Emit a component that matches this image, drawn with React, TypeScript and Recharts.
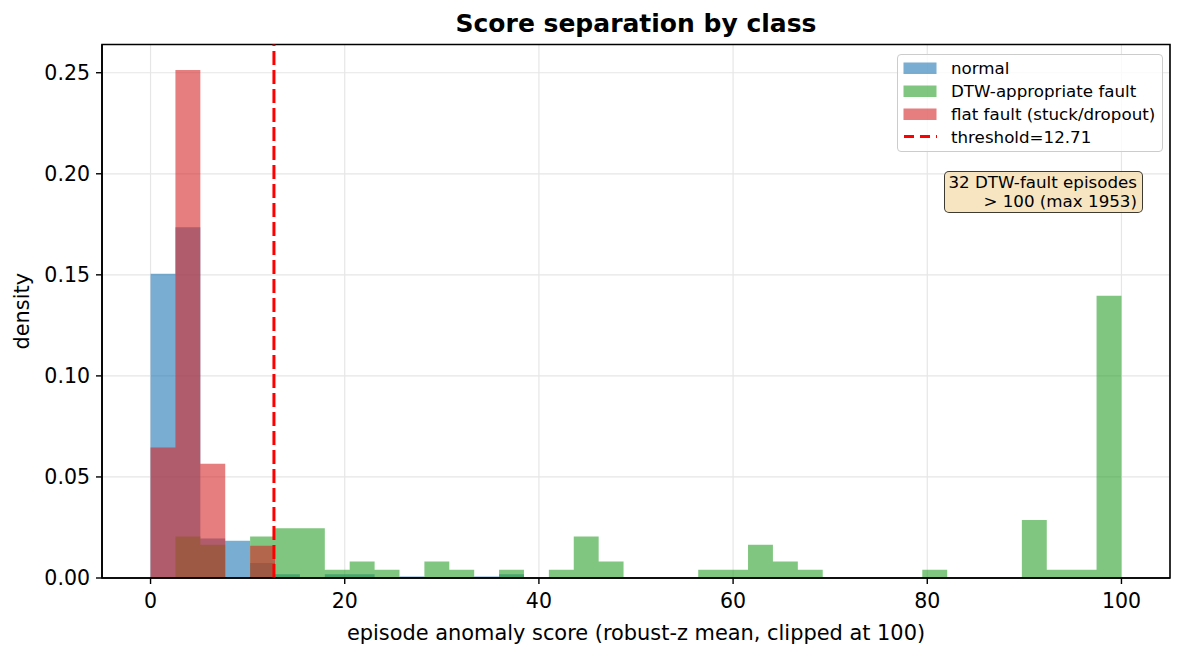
import React from 'react';
import {
  ComposedChart,
  Area,
  XAxis,
  YAxis,
  CartesianGrid,
  ReferenceLine,
  ReferenceArea,
  Label,
} from 'recharts';

// Histogram layout: 39 equal bins between 0 and 100 (scores clipped at 100)
const BIN_COUNT = 39;
const SCORE_MAX = 100;
const THRESHOLD = 12.71;
const X_DOMAIN: [number, number] = [-5, 105];

const X_TICKS = [0, 20, 40, 60, 80, 100];
const Y_TICKS = [0, 0.05, 0.1, 0.15, 0.2, 0.25];

// Density per bin for each class
const normalDensity = [
  0.1505, 0.1735, 0.0196, 0.0184, 0.0074, 0.0018, 0, 0.0018, 0.0018, 0,
  0.0008, 0, 0, 0.0008, 0.0018, 0, 0, 0, 0, 0,
  0, 0, 0, 0, 0, 0, 0, 0, 0, 0,
  0, 0, 0, 0, 0, 0, 0, 0, 0,
];
const dtwDensity = [
  0, 0.0205, 0.0164, 0, 0.0205, 0.0246, 0.0246, 0.0041, 0.0082, 0.0041,
  0, 0.0082, 0.0041, 0, 0.0041, 0, 0.0041, 0.0205, 0.0082, 0,
  0, 0, 0.0041, 0.0041, 0.0164, 0.0082, 0.0041, 0, 0, 0,
  0, 0.0041, 0, 0, 0, 0.0287, 0.0041, 0.0041, 0.1396,
];
const flatDensity = [
  0.0646, 0.2514, 0.0565, 0, 0.016, 0, 0, 0, 0, 0,
  0, 0, 0, 0, 0, 0, 0, 0, 0, 0,
  0, 0, 0, 0, 0, 0, 0, 0, 0, 0,
  0, 0, 0, 0, 0, 0, 0, 0, 0,
];

const SERIES_LABELS = ['normal', 'DTW-appropriate fault', 'flat fault (stuck/dropout)'];
const THRESHOLD_LABEL = `threshold=${THRESHOLD}`;
const NOTE_LINES = ['32 DTW-fault episodes', '> 100 (max 1953)'];

const BLUE = '#1f77b4';
const GREEN = '#2ca02c';
const RED = '#d62728';
const ALPHA = 0.6;
const FONT = "'DejaVu Sans', 'Liberation Sans', sans-serif";
const AXIS_FONT = 20.5;
const LABEL_FONT = 20.9;
const SMALL_FONT = 16.7;

// Y range gets a 5% headroom above the tallest bin
const Y_TOP = Math.max(...normalDensity, ...dtwDensity, ...flatDensity) * 1.05;

// One row per bin edge; step-after areas turn these into histogram bars
const rows = Array.from({ length: BIN_COUNT + 1 }, (_, i) => ({
  score: (i * SCORE_MAX) / BIN_COUNT,
  normal: i < BIN_COUNT ? normalDensity[i] : 0,
  dtw: i < BIN_COUNT ? dtwDensity[i] : 0,
  flat: i < BIN_COUNT ? flatDensity[i] : 0,
}));

const legendEntries = [
  { label: SERIES_LABELS[0], color: BLUE, kind: 'patch' },
  { label: SERIES_LABELS[1], color: GREEN, kind: 'patch' },
  { label: SERIES_LABELS[2], color: RED, kind: 'patch' },
  { label: THRESHOLD_LABEL, color: '#ff0000', kind: 'dash' },
];

function LegendBox() {
  return (
    <div
      style={{
        position: 'absolute',
        left: 897,
        top: 54,
        width: 266,
        height: 98,
        boxSizing: 'border-box',
        border: '1.3px solid #cccccc',
        borderRadius: 4,
        background: 'rgba(255,255,255,0.8)',
        fontFamily: FONT,
        fontSize: SMALL_FONT,
        color: '#000',
      }}
    >
      {legendEntries.map((e, i) => (
        <div
          key={e.label}
          style={{
            position: 'absolute',
            left: 0,
            top: 2 + i * 22.8,
            height: 22.8,
            width: '100%',
            display: 'flex',
            alignItems: 'center',
          }}
        >
          <svg width={50} height={22.8} style={{ flex: 'none' }}>
            {e.kind === 'patch' ? (
              <rect x={5.5} y={5.5} width={33} height={11.5} fill={e.color} fillOpacity={ALPHA} />
            ) : (
              <line
                x1={6}
                x2={39}
                y1={11.4}
                y2={11.4}
                stroke={e.color}
                strokeWidth={3}
                strokeDasharray="10 6"
              />
            )}
          </svg>
          <span style={{ marginLeft: 3, whiteSpace: 'nowrap', lineHeight: '22px' }}>{e.label}</span>
        </div>
      ))}
    </div>
  );
}

export default function App() {
  return (
    <div
      style={{
        position: 'absolute',
        left: 0,
        top: 0,
        width: 1183,
        height: 658,
        background: '#fff',
        fontFamily: FONT,
      }}
    >
      <div
        style={{
          position: 'absolute',
          left: 102,
          width: 1068,
          top: 8,
          lineHeight: '32px',
          textAlign: 'center',
          fontWeight: 'bold',
          fontSize: 25,
          color: '#000',
        }}
      >
        Score separation by class
      </div>
      <ComposedChart
        width={1183}
        height={658}
        data={rows}
        margin={{ top: 44.5, right: 13, bottom: 0, left: 0 }}
      >
        <CartesianGrid stroke="#e6e6e6" strokeWidth={1.2} />
        <XAxis
          dataKey="score"
          type="number"
          domain={X_DOMAIN}
          ticks={X_TICKS}
          allowDataOverflow
          height={80}
          tickSize={6}
          tickMargin={9}
          axisLine={{ stroke: '#000', strokeWidth: 1.6 }}
          tickLine={{ stroke: '#000', strokeWidth: 1.4 }}
          tick={{ fill: '#000', fontSize: AXIS_FONT, fontFamily: FONT }}
        >
          <Label
            value="episode anomaly score (robust-z mean, clipped at 100)"
            position="insideBottom"
            offset={18}
            style={{ fill: '#000', fontSize: LABEL_FONT, fontFamily: FONT }}
          />
        </XAxis>
        <YAxis
          type="number"
          domain={[0, Y_TOP]}
          ticks={Y_TICKS}
          allowDataOverflow
          width={102}
          tickSize={6}
          tickMargin={6}
          tickFormatter={(v: number) => v.toFixed(2)}
          axisLine={{ stroke: '#000', strokeWidth: 1.6 }}
          tickLine={{ stroke: '#000', strokeWidth: 1.4 }}
          tick={{ fill: '#000', fontSize: AXIS_FONT, fontFamily: FONT }}
        >
          <Label
            value="density"
            angle={-90}
            position="insideLeft"
            offset={22}
            style={{ fill: '#000', fontSize: LABEL_FONT, fontFamily: FONT, textAnchor: 'middle' }}
          />
        </YAxis>
        <Area
          dataKey="normal"
          name={SERIES_LABELS[0]}
          type="stepAfter"
          stroke="none"
          fill={BLUE}
          fillOpacity={ALPHA}
          isAnimationActive={false}
          dot={false}
          activeDot={false}
        />
        <Area
          dataKey="dtw"
          name={SERIES_LABELS[1]}
          type="stepAfter"
          stroke="none"
          fill={GREEN}
          fillOpacity={ALPHA}
          isAnimationActive={false}
          dot={false}
          activeDot={false}
        />
        <Area
          dataKey="flat"
          name={SERIES_LABELS[2]}
          type="stepAfter"
          stroke="none"
          fill={RED}
          fillOpacity={ALPHA}
          isAnimationActive={false}
          dot={false}
          activeDot={false}
        />
        <ReferenceLine
          x={THRESHOLD}
          stroke="#ff0000"
          strokeWidth={3}
          strokeDasharray="14 5"
        />
        {/* axes frame */}
        <ReferenceArea
          x1={X_DOMAIN[0]}
          x2={X_DOMAIN[1]}
          y1={0}
          y2={Y_TOP}
          fill="none"
          fillOpacity={0}
          stroke="#000"
          strokeWidth={1.6}
          strokeOpacity={1}
        />
      </ComposedChart>
      <LegendBox />
      <div
        style={{
          position: 'absolute',
          left: 944,
          top: 171,
          width: 199,
          height: 42,
          boxSizing: 'border-box',
          background: 'rgba(245,222,179,0.8)',
          border: '1.5px solid rgba(0,0,0,0.75)',
          borderRadius: 5,
          fontSize: SMALL_FONT,
          lineHeight: '19px',
          textAlign: 'right',
          padding: '1px 5px 0 0',
          color: '#000',
        }}
      >
        {NOTE_LINES.map((l) => (
          <div key={l} style={{ whiteSpace: 'nowrap' }}>
            {l}
          </div>
        ))}
      </div>
    </div>
  );
}
